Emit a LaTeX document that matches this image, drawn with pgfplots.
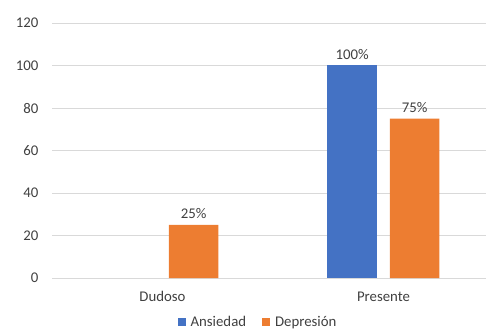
\documentclass[border=0pt]{standalone}
\usepackage{fontspec}
\setmainfont{Carlito}
\usepackage{pgfplots}
\pgfplotsset{compat=1.18}
\definecolor{ansblue}{HTML}{4472C4}
\definecolor{deporange}{HTML}{ED7D31}
\definecolor{gridgray}{HTML}{D9D9D9}
\definecolor{txtgray}{HTML}{404040}
\begin{document}
\begin{tikzpicture}[x=1bp,y=1bp]
\useasboundingbox (0,0) rectangle (486,329);
\begin{axis}[
  at={(52bp,51bp)}, anchor=south west,
  scale only axis, width=434bp, height=255bp,
  ybar=13bp, bar width=49.5bp,
  xmin=-0.5, xmax=1.464, ymin=0, ymax=120,
  ytick={0,20,...,120},
  xtick={0,1}, xticklabels={Dudoso,Presente},
  axis line style={draw=none},
  major tick length=0pt,
  ymajorgrids, grid style={gridgray, line width=0.8bp},
  font=\fontsize{14.8bp}{17bp}\selectfont\color{txtgray},
  /pgf/number format/assume math mode=true,
  yticklabel style={xshift=-10bp},
  xticklabel style={yshift=-10bp},
  clip=false,
  nodes near coords,
  point meta=explicit symbolic,
  every node near coord/.append style={anchor=center, yshift=11bp, font=\fontsize{14.8bp}{17bp}\selectfont\color{txtgray}},
  legend style={at={(0.4747,-0.1725)}, anchor=center, draw=none, fill=none,
    legend columns=2, font=\fontsize{14.8bp}{17bp}\selectfont\color{txtgray},
    /tikz/every even column/.append style={column sep=14bp}},
  legend image code/.code={\fill[#1] (0bp,-4bp) rectangle (8bp,4bp); \path (11bp,0bp);},
]
\addplot[fill=ansblue, draw=none] coordinates {(1,100) [100\%]};
\addplot[fill=deporange, draw=none] coordinates {(0,25) [25\%] (1,75) [75\%]};
\legend{Ansiedad,Depresión}
\end{axis}
\end{tikzpicture}
\end{document}
